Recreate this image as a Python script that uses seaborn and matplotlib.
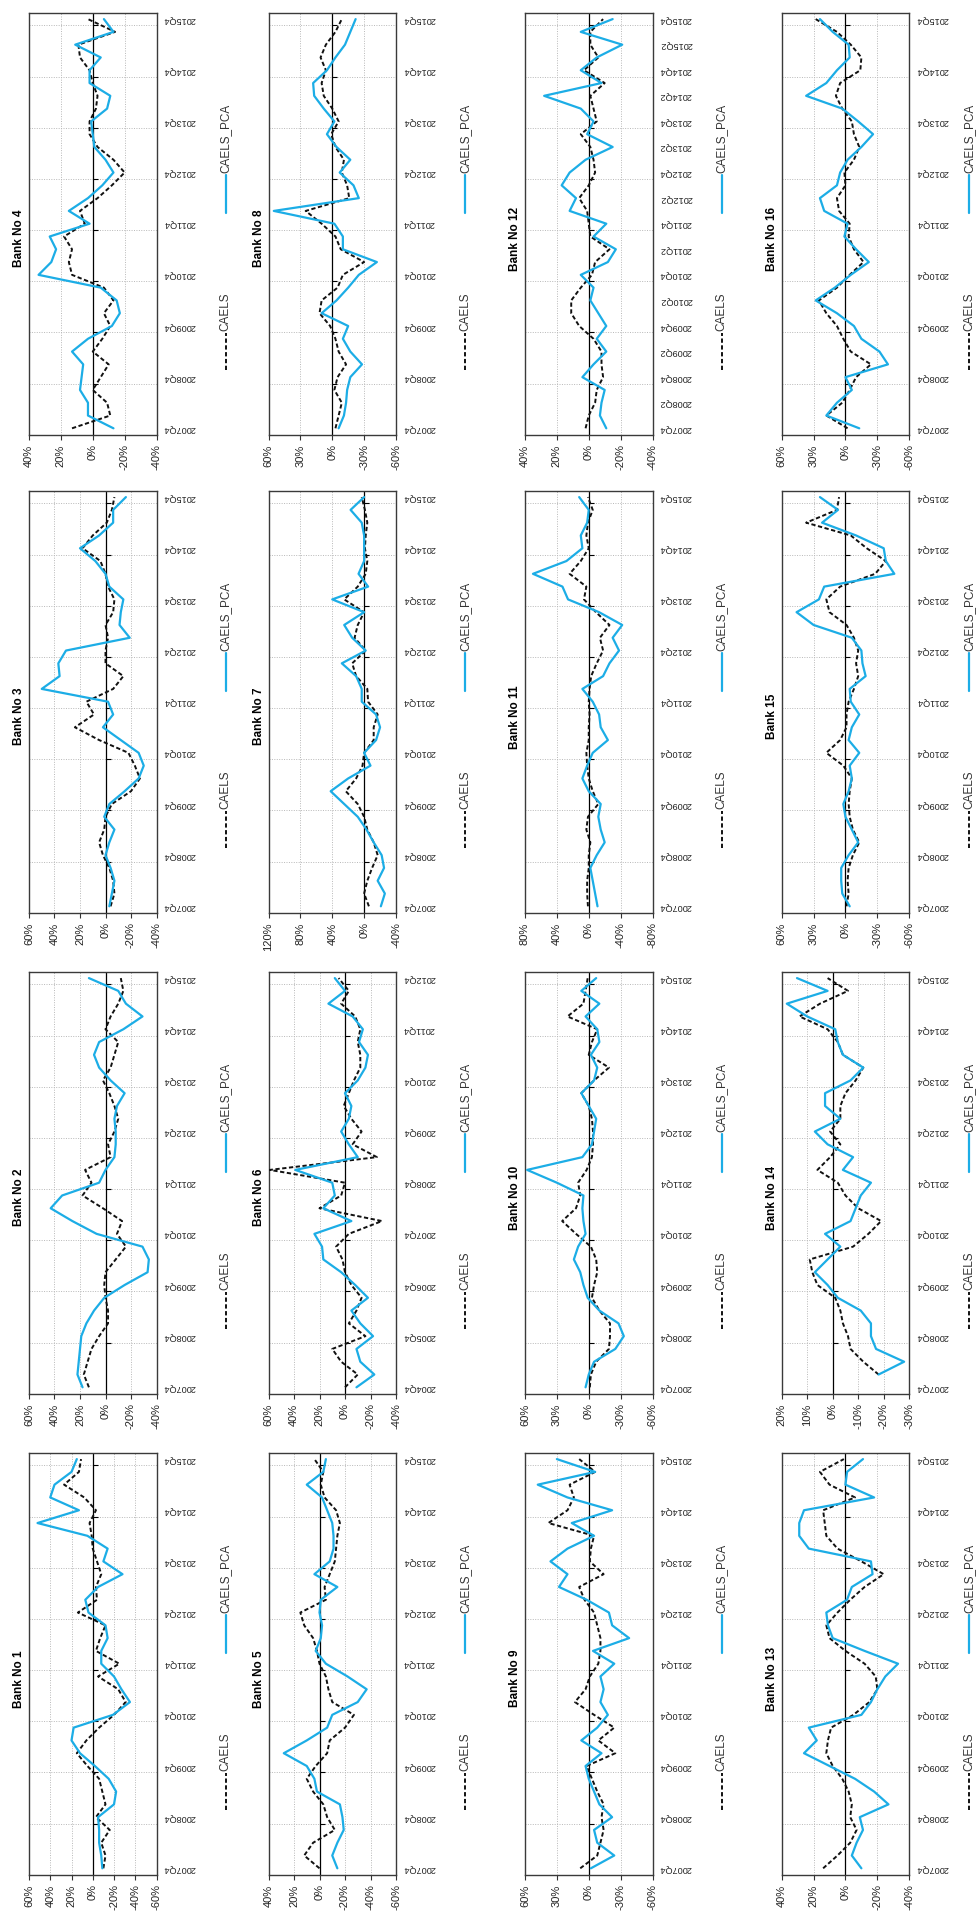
import matplotlib

matplotlib.use('Agg')
import matplotlib.pyplot as plt
from matplotlib.lines import Line2D
import seaborn as sns
import pandas as pd

# quarter positions (0 = first labelled quarter at the bottom of a panel)
quarters = list(range(33))

dates_main = ["2007Q4", "2008Q4", "2009Q4", "2010Q4", "2011Q4",
              "2012Q4", "2013Q4", "2014Q4", "2015Q4"]
dates_bank6 = ["2004Q4", "2005Q4", "2006Q4", "2007Q4", "2008Q4",
               "2009Q4", "2010Q4", "2011Q4", "2012Q4"]
dates_bank12 = ["2007Q4", "2008Q2", "2008Q4", "2009Q2", "2009Q4", "2010Q2",
                "2010Q4", "2011Q2", "2011Q4", "2012Q2", "2012Q4", "2013Q2",
                "2013Q4", "2014Q2", "2014Q4", "2015Q2", "2015Q4"]

titles = ["Bank No 1", "Bank No 2", "Bank No 3", "Bank No 4",
          "Bank No 5", "Bank No 6", "Bank No 7", "Bank No 8",
          "Bank No 9", "Bank No 10", "Bank No 11", "Bank No 12",
          "Bank No 13", "Bank No 14", "Bank 15", "Bank No 16"]

# value axis (%): top label, bottom label, step
axis_top = [60, 60, 60, 40, 40, 60, 120, 60, 60, 60, 80, 40, 40, 20, 60, 60]
axis_bottom = [-60, -40, -40, -40, -60, -40, -40, -60, -60, -60, -80, -40, -40, -30, -60, -60]
axis_step = [20, 20, 20, 20, 20, 20, 40, 30, 30, 30, 40, 20, 20, 10, 30, 30]

# CAELS (dashed) and CAELS_PCA (blue) series, in %
caels_b1 = [-10, -12, -8, -16, -3, -12, -9, -6, 5, 15, 6, -6, -20, -31, -24, -5, -25,
            -3, -7, -12, 14, -4, -3, -8, -4, 0, 1, 3, -3, 8, 27, 13, 11]
pca_b1 = [-9, -8, -6, -6, -5, -20, -22, -15, -2, 12, 20, 18, -19, -35, -27, -20, -8,
          -8, -14, -12, 4, 7, -5, -28, -10, -14, 5, 52, 13, 40, 36, 20, 15]

caels_b2 = [13, 17, 14, 11, 5, -2, -2, 0, 1, 0, -8, -16, -9, -13, 2, 18, 11,
            16, -4, -2, -7, -10, -7, -3, 2, -4, -7, -10, 0, -4, -10, -14, -12]
pca_b2 = [18, 22, 21, 20, 19, 15, 9, 1, -15, -33, -34, -29, 7, 26, 43, 34, 5,
          0, -7, -8, -8, -7, -9, -15, -4, 5, 9, 5, -14, -29, -16, -10, 13]

caels_b3 = [-4, -7, -6, -3, 2, 5, 1, 0, -5, -20, -27, -23, -18, 5, 24, 9, 15,
            -6, -14, 0, 0, -2, 0, -6, -7, -2, 0, 4, 18, 10, -1, -5, -7]
pca_b3 = [-3, -5, -7, -4, 0, -3, -7, 1, -3, -15, -26, -30, -26, -12, 2, -6, -2,
          50, 36, 37, 31, -19, -11, -12, -14, -3, 0, 8, 20, 5, -6, -6, -16]

caels_b4 = [13, -11, -9, 0, -5, -10, 0, -6, -11, -7, -13, -7, 13, 15, 13, 18, 5,
            8, -3, -12, -20, -13, -3, 2, 2, -2, -3, 0, 2, 8, 9, -14, 3]
pca_b4 = [-13, 3, 3, 8, 7, 6, 13, 3, -12, -17, -15, -5, 34, 26, 23, 27, 2,
          15, 3, -6, -13, -8, -1, 0, 1, -9, -11, 2, 2, -5, 11, -13, -7]

caels_b5 = [0, 12, 5, -12, -6, -3, 5, 10, 3, -6, -8, -20, -27, -10, -7, -5, 0,
            2, 5, 12, 15, -5, -4, -8, -12, -13, -14, -16, -13, -4, -1, -3, 4]
pca_b5 = [-14, -10, -14, -19, -18, -16, 2, 4, 10, 28, 10, -6, -10, -30, -37, -22, -5,
          3, -1, -2, 0, -1, -14, 4, -8, -11, -11, -10, -6, -2, 10, -3, -5]

caels_b6 = [0, -10, 3, 10, -16, -3, -9, -13, -5, 0, 2, 7, -3, -29, 20, 3, 0,
            59, -25, -6, -13, -5, 1, -3, -7, -12, -12, -10, -12, -8, 3, -3, 5]
pca_b6 = [-9, -23, -12, -9, -22, -12, -5, -18, -8, 3, 17, 18, 24, -5, 17, 8, 10,
          39, -10, -3, 3, -3, -5, 0, -10, -16, -18, -11, -14, -6, 13, 0, 8]

caels_b7 = [-6, 0, -4, -10, -17, -12, -4, 0, 8, 23, 10, 2, 0, -12, -12, -17, -5,
            -4, 10, 15, -2, 12, 8, 0, 25, 8, -2, -4, -1, -2, -4, -1, 3]
pca_b7 = [-21, -26, -17, -25, -22, -12, -3, 8, 25, 42, 20, -8, 0, -15, -20, -15, 3,
          3, 10, 28, -2, 15, 25, 0, 40, -5, 7, 0, 0, 0, 3, 17, 0]

caels_b8 = [-3, -6, -9, -2, -5, -13, -6, -3, 2, 12, 10, -5, -10, -30, -8, -3, 10,
            25, -16, -14, -9, -11, -3, 1, -6, 0, 8, 10, 6, 11, 6, -3, -9]
pca_b8 = [-6, -11, -13, -14, -17, -28, -17, -10, -15, 10, -4, -15, -25, -42, -10, -10, -2,
          55, -25, -20, -7, -17, -4, 5, -2, 8, 17, 18, 5, -3, -12, -17, -22]

caels_b9 = [8, -8, -11, -14, -12, -14, -8, -3, 2, -25, -9, -24, -5, 13, 3, -1, -9,
            -11, -11, -8, -5, 4, 9, -14, -1, -2, -5, 38, 20, 14, 18, -6, 9]
pca_b9 = [-2, -24, -8, -5, -22, -10, -5, 0, 3, -12, 7, -8, -18, -11, -14, -11, -24,
          -4, -38, -22, -19, 2, 28, 20, 36, 20, -5, 16, -22, 20, 48, -6, 30]

caels_b10 = [-1, -2, -7, -19, -20, -20, -10, -3, -5, -8, -7, -2, 12, 25, 12, 8, 10,
             2, -3, -4, -4, -3, 0, 7, -5, -19, 0, -3, -8, 20, 5, 3, 1]
pca_b10 = [3, 0, -5, -25, -33, -28, -10, 1, 5, 8, 14, 10, 3, 5, 6, 5, 30,
           58, 6, -3, -5, -7, 0, 7, -5, -8, -2, -10, -8, 3, -10, 7, -7]

caels_b11 = [1, 2, 2, 0, 0, -2, 3, 1, -12, -5, 0, 2, 3, 0, 0, -1, 0,
             -1, -3, -10, -18, -14, -26, -9, 6, 3, 24, 10, 0, 3, 1, -5, 1]
pca_b11 = [-11, -8, -5, -2, -10, -20, -15, -12, -15, 0, 8, 2, -5, -24, -15, -13, -5,
           8, -18, -26, -38, -30, -42, -13, 26, 33, 70, 28, 8, 10, 2, 0, 12]

caels_b12 = [2, 0, -4, -5, -9, -8, -8, -3, 6, 11, 11, 5, -2, -4, -13, -1, 0,
             1, 6, 0, -4, -3, -1, 5, -5, -3, -1, -10, 3, -6, -1, -1, -9]
pca_b12 = [-11, -7, -8, -10, 4, -3, -11, -5, -11, -6, -1, -3, 5, -12, -17, -3, -11,
           12, 8, 17, 12, 2, -15, 1, -3, 5, 28, -8, 5, -5, -21, 5, -15]

caels_b13 = [14, 5, -3, -7, -3, -4, -2, 2, 8, 12, 11, 9, -5, -15, -20, -19, -12,
             0, 10, 12, 5, -3, -12, -24, -10, 5, 12, 13, 14, -6, 10, 16, 1]
pca_b13 = [-10, -4, -7, -11, -9, -27, -18, -6, 10, 26, 18, 23, -10, -16, -20, -25, -33,
           -12, 8, 11, 12, -1, -4, -17, -16, 23, 29, 29, 26, -18, 0, -1, -11]

caels_b14 = [None, -18, -12, -7, -6, -4, -3, -1, 6, 8, 9, -8, -14, -19, -10, -5, -2,
             6, 1, -3, 1, -3, -3, -5, -9, -12, -4, -2, 2, 13, 5, -6, 2]
pca_b14 = [None, -18, -28, -17, -15, -15, -11, -2, 2, 7, 2, -3, 3, -7, -9, -11, -15,
           -4, -8, 2, 7, -3, 3, 3, -7, -12, -4, -2, -1, 10, 18, 2, 14]

caels_b15 = [-1, -3, -2, -3, -7, -13, -7, -4, -3, -4, -6, 2, 18, 5, -1, -1, -3,
             -8, -12, -10, -12, -8, -1, 15, 18, 5, -28, -38, -20, -5, 37, 8, 6]
pca_b15 = [-4, 3, 4, 4, -3, -12, -6, 0, 2, -3, -6, -4, -13, -3, -6, -13, -5,
           -4, -19, -16, -15, -6, 30, 46, 25, 20, -46, -38, -36, -10, 22, 7, 24]

caels_b16 = [-2, 18, 3, -4, -10, -24, -5, 2, 8, 18, 25, 8, -4, -17, -8, -3, -4,
             6, 8, 0, 1, -8, -13, -8, -6, 3, 9, 5, -14, -15, -5, 8, 28]
pca_b16 = [-13, 18, 8, -6, 0, -40, -32, -15, -8, 8, 28, 10, -5, -22, -10, 1, -2,
           20, 24, 8, 5, -2, -15, -26, -12, 3, 37, 18, 8, -4, -3, 12, 24]

caels_all = [caels_b1, caels_b2, caels_b3, caels_b4, caels_b5, caels_b6, caels_b7, caels_b8,
             caels_b9, caels_b10, caels_b11, caels_b12, caels_b13, caels_b14, caels_b15, caels_b16]
pca_all = [pca_b1, pca_b2, pca_b3, pca_b4, pca_b5, pca_b6, pca_b7, pca_b8,
           pca_b9, pca_b10, pca_b11, pca_b12, pca_b13, pca_b14, pca_b15, pca_b16]

BLUE = '#1cade6'
TXT = '#222222'

sns.set_theme(style="white")
plt.rcParams['font.family'] = ['Liberation Sans', 'DejaVu Sans']

W, H = 977, 1916
fig = plt.figure(figsize=(W / 100, H / 100), dpi=100)
fig.patch.set_facecolor('white')

# page is turned a quarter: each panel has time running upwards
col_left = [29, 268.5, 525, 781.7]
row_top = [12.7, 490.7, 971.7, 1452.7]
PW, PH = 127.5, 422


def fx(px):
    return px / W


def fy(py):
    return 1 - py / H


year_lines = [3.5 + 4 * k for k in range(8)]

for c in range(4):
    for r in range(4):
        b = 4 * c + 4 - r
        x0, y0 = col_left[c], row_top[r]
        ax = fig.add_axes([fx(x0), fy(y0 + PH), PW / W, PH / H])

        df = pd.concat([
            pd.DataFrame({'quarter': quarters, 'value': caels_all[b - 1], 'series': 'CAELS'}),
            pd.DataFrame({'quarter': quarters, 'value': pca_all[b - 1], 'series': 'CAELS_PCA'}),
        ]).dropna()
        df['value'] = df['value'].astype(float)

        sns.lineplot(
            data=df, x='value', y='quarter', hue='series', style='series', size='series',
            hue_order=['CAELS', 'CAELS_PCA'], style_order=['CAELS', 'CAELS_PCA'],
            size_order=['CAELS', 'CAELS_PCA'],
            palette={'CAELS': '#111111', 'CAELS_PCA': BLUE},
            dashes={'CAELS': (2.2, 1.3), 'CAELS_PCA': ''},
            sizes={'CAELS': 1.4, 'CAELS_PCA': 1.6},
            orient='y', sort=False, errorbar=None, legend=False, ax=ax, zorder=3,
        )
        ax.set_xlabel('')
        ax.set_ylabel('')

        top, bot, step = axis_top[b - 1], axis_bottom[b - 1], axis_step[b - 1]
        ticks = list(range(bot, top + 1, step))
        ax.set_xlim(top, bot)
        ax.set_xticks(ticks)
        ax.set_xticklabels([f"{v}%" for v in ticks], rotation=90, fontsize=8, color=TXT)
        ax.tick_params(axis='x', direction='out', length=3.5, width=0.8, pad=3.5,
                       color='#333333', bottom=True)

        if b == 6:
            labels = dates_bank6
        elif b == 12:
            labels = dates_bank12
        else:
            labels = dates_main
        stride = 32 // (len(labels) - 1)
        ax.set_ylim(-0.5, 32.5)
        ax.yaxis.tick_right()
        ax.set_yticks(list(range(0, 33, stride)))
        ax.set_yticklabels(labels, rotation=180, va='center', fontsize=6.6, color=TXT)
        ax.set_yticks(year_lines, minor=True)
        ax.tick_params(axis='y', which='both', length=0, pad=5)

        ax.grid(axis='x', which='major', color='#b8b8b8', lw=0.7, ls=(0, (1, 1.5)))
        ax.grid(axis='y', which='minor', color='#b8b8b8', lw=0.7, ls=(0, (1, 1.5)))
        ax.grid(axis='y', which='major', visible=False)

        # category axis crossing at zero, with its tick marks
        ax.axvline(0, color='black', lw=0.9, zorder=2)
        ax.plot([0] * len(year_lines), year_lines, ls='none', marker=1, ms=3.5,
                mew=0.8, color='black', zorder=2)

        for s in ax.spines.values():
            s.set_visible(True)
            s.set_color('#3a3a3a')
            s.set_linewidth(1.0)

        # title, turned with the page
        fig.text(fx(x0 - 10), fy(y0 + PH / 2 + 15), titles[b - 1], rotation=90,
                 ha='center', va='center', fontsize=8.5, fontweight='bold', color='black')

        # legend, turned with the page (kept inside the page on the last column)
        xc = min(x0 + PW + 69, W - 8)
        yc = y0 + PH / 2 + 7
        fig.add_artist(Line2D([fx(xc), fx(xc)], [fy(yc + 139), fy(yc + 102)],
                              transform=fig.transFigure, color='#111111', lw=1.4,
                              ls=(0, (2.2, 1.3))))
        fig.text(fx(xc), fy(yc + 100), 'CAELS', rotation=90, ha='center', va='bottom',
                 fontsize=8.5, color='#333333')
        fig.add_artist(Line2D([fx(xc), fx(xc)], [fy(yc - 18), fy(yc - 56)],
                              transform=fig.transFigure, color=BLUE, lw=1.6))
        fig.text(fx(xc), fy(yc - 58), 'CAELS_PCA', rotation=90, ha='center', va='bottom',
                 fontsize=8.5, color='#333333')

fig.savefig('out.png', dpi=100, facecolor='white')
plt.close(fig)
